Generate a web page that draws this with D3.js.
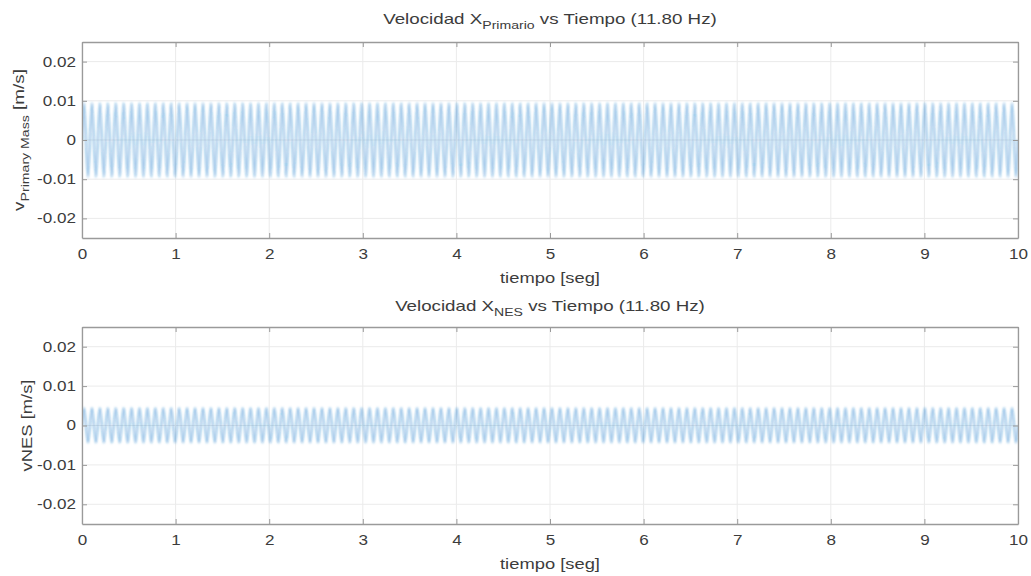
<!DOCTYPE html>
<html>
<head>
<meta charset="utf-8">
<script src="https://cdn.jsdelivr.net/npm/d3@7"></script>
<style>
  html, body { margin: 0; padding: 0; background: #fff; }
  svg { display: block; font-family: "Liberation Sans", Arial, Helvetica, sans-serif; }
</style>
</head>
<body>
<svg id="fig" width="1031" height="576"></svg>
<script>
// Excitation frequency (Hz) and time span of the simulation
const frecuenciaHz = 11.8;
const tiempoFinal = 10;

// Tick labels
const xTicks = [0, 1, 2, 3, 4, 5, 6, 7, 8, 9, 10];
const yTicks = [-0.02, -0.01, 0, 0.01, 0.02];

// Per-cycle velocity extrema (m/s), primary mass: steady oscillation
const maxPrimario = [
  0.0095,0.0095,0.0095,0.0095,0.0095,0.0095,0.0095,0.0095,0.0095,0.0095,
  0.0095,0.0095,0.0095,0.0095,0.0095,0.0095,0.0095,0.0095,0.0095,0.0095,
  0.0095,0.0095,0.0095,0.0095,0.0095,0.0095,0.0095,0.0095,0.0095,0.0095,
  0.0095,0.0095,0.0095,0.0095,0.0095,0.0095,0.0095,0.0095,0.0095,0.0095,
  0.0095,0.0095,0.0095,0.0095,0.0095,0.0095,0.0095,0.0095,0.0095,0.0095,
  0.0095,0.0095,0.0095,0.0095,0.0095,0.0095,0.0095,0.0095,0.0095,0.0095,
  0.0095,0.0095,0.0095,0.0095,0.0095,0.0095,0.0095,0.0095,0.0095,0.0095,
  0.0095,0.0095,0.0095,0.0095,0.0095,0.0095,0.0095,0.0095,0.0095,0.0095,
  0.0095,0.0095,0.0095,0.0095,0.0095,0.0095,0.0095,0.0095,0.0095,0.0095,
  0.0095,0.0095,0.0095,0.0095,0.0095,0.0095,0.0095,0.0095,0.0095,0.0095,
  0.0095,0.0095,0.0095,0.0095,0.0095,0.0095,0.0095,0.0095,0.0095,0.0095,
  0.0095,0.0095,0.0095,0.0095,0.0095,0.0095,0.0095,0.0095
];
const minPrimario = [
  -0.0095,-0.0095,-0.0095,-0.0095,-0.0095,-0.0095,-0.0095,-0.0095,-0.0095,-0.0095,
  -0.0095,-0.0095,-0.0095,-0.0095,-0.0095,-0.0095,-0.0095,-0.0095,-0.0095,-0.0095,
  -0.0095,-0.0095,-0.0095,-0.0095,-0.0095,-0.0095,-0.0095,-0.0095,-0.0095,-0.0095,
  -0.0095,-0.0095,-0.0095,-0.0095,-0.0095,-0.0095,-0.0095,-0.0095,-0.0095,-0.0095,
  -0.0095,-0.0095,-0.0095,-0.0095,-0.0095,-0.0095,-0.0095,-0.0095,-0.0095,-0.0095,
  -0.0095,-0.0095,-0.0095,-0.0095,-0.0095,-0.0095,-0.0095,-0.0095,-0.0095,-0.0095,
  -0.0095,-0.0095,-0.0095,-0.0095,-0.0095,-0.0095,-0.0095,-0.0095,-0.0095,-0.0095,
  -0.0095,-0.0095,-0.0095,-0.0095,-0.0095,-0.0095,-0.0095,-0.0095,-0.0095,-0.0095,
  -0.0095,-0.0095,-0.0095,-0.0095,-0.0095,-0.0095,-0.0095,-0.0095,-0.0095,-0.0095,
  -0.0095,-0.0095,-0.0095,-0.0095,-0.0095,-0.0095,-0.0095,-0.0095,-0.0095,-0.0095,
  -0.0095,-0.0095,-0.0095,-0.0095,-0.0095,-0.0095,-0.0095,-0.0095,-0.0095,-0.0095,
  -0.0095,-0.0095,-0.0095,-0.0095,-0.0095,-0.0095,-0.0095,-0.0095
];

// Per-cycle velocity extrema (m/s), NES mass
const maxNES = [
  0.0045,0.0045,0.0045,0.0045,0.0045,0.0045,0.0045,0.0045,0.0045,0.0045,
  0.0045,0.0045,0.0045,0.0045,0.0045,0.0045,0.0045,0.0045,0.0045,0.0045,
  0.0045,0.0045,0.0045,0.0045,0.0045,0.0045,0.0045,0.0045,0.0045,0.0045,
  0.0045,0.0045,0.0045,0.0045,0.0045,0.0045,0.0045,0.0045,0.0045,0.0045,
  0.0045,0.0045,0.0045,0.0045,0.0045,0.0045,0.0045,0.0045,0.0045,0.0045,
  0.0045,0.0045,0.0045,0.0045,0.0045,0.0045,0.0045,0.0045,0.0045,0.0045,
  0.0045,0.0045,0.0045,0.0045,0.0045,0.0045,0.0045,0.0045,0.0045,0.0045,
  0.0045,0.0045,0.0045,0.0045,0.0045,0.0045,0.0045,0.0045,0.0045,0.0045,
  0.0045,0.0045,0.0045,0.0045,0.0045,0.0045,0.0045,0.0045,0.0045,0.0045,
  0.0045,0.0045,0.0045,0.0045,0.0045,0.0045,0.0045,0.0045,0.0045,0.0045,
  0.0045,0.0045,0.0045,0.0045,0.0045,0.0045,0.0045,0.0045,0.0045,0.0045,
  0.0045,0.0045,0.0045,0.0045,0.0045,0.0045,0.0045,0.0045
];
const minNES = [
  -0.0044,-0.0044,-0.0044,-0.0044,-0.0044,-0.0044,-0.0044,-0.0044,-0.0044,-0.0044,
  -0.0044,-0.0044,-0.0044,-0.0044,-0.0044,-0.0044,-0.0044,-0.0044,-0.0044,-0.0044,
  -0.0044,-0.0044,-0.0044,-0.0044,-0.0044,-0.0044,-0.0044,-0.0044,-0.0044,-0.0044,
  -0.0044,-0.0044,-0.0044,-0.0044,-0.0044,-0.0044,-0.0044,-0.0044,-0.0044,-0.0044,
  -0.0044,-0.0044,-0.0044,-0.0044,-0.0044,-0.0044,-0.0044,-0.0044,-0.0044,-0.0044,
  -0.0044,-0.0044,-0.0044,-0.0044,-0.0044,-0.0044,-0.0044,-0.0044,-0.0044,-0.0044,
  -0.0044,-0.0044,-0.0044,-0.0044,-0.0044,-0.0044,-0.0044,-0.0044,-0.0044,-0.0044,
  -0.0044,-0.0044,-0.0044,-0.0044,-0.0044,-0.0044,-0.0044,-0.0044,-0.0044,-0.0044,
  -0.0044,-0.0044,-0.0044,-0.0044,-0.0044,-0.0044,-0.0044,-0.0044,-0.0044,-0.0044,
  -0.0044,-0.0044,-0.0044,-0.0044,-0.0044,-0.0044,-0.0044,-0.0044,-0.0044,-0.0044,
  -0.0044,-0.0044,-0.0044,-0.0044,-0.0044,-0.0044,-0.0044,-0.0044,-0.0044,-0.0044,
  -0.0044,-0.0044,-0.0044,-0.0044,-0.0044,-0.0044,-0.0044,-0.0044
];

// Build [t, v] vertices: start at rest, max at 1/4 period, min at 3/4 period
function serie(maxs, mins) {
  const T = 1 / frecuenciaHz;
  const pts = [[0, 0]];
  maxs.forEach((m, k) => {
    pts.push([(k + 0.25) * T, m]);
    pts.push([(k + 0.75) * T, mins[k]]);
  });
  pts.push([tiempoFinal, 0]);
  return pts;
}

const svg = d3.select("#fig");
const textColor = "#3c3c3c";
const fmtY = d => d === 0 ? "0" : (d < 0 ? "-" : "") + Math.abs(d).toFixed(2);

// soft rendering of the thin trace
svg.append("defs").append("filter").attr("id", "soft")
  .attr("filterUnits", "userSpaceOnUse")
  .attr("x", 0).attr("y", 0).attr("width", 1031).attr("height", 576)
  .append("feGaussianBlur").attr("stdDeviation", 1);

// widen a text element horizontally about its anchor point
function widen(node, sx, ax, ay) {
  const prev = node.getAttribute("transform") || "";
  if (prev) node.setAttribute("transform", `${prev} scale(${sx},1)`);
  else node.setAttribute("transform",
    `translate(${ax},${ay}) scale(${sx},1) translate(${-ax},${-ay})`);
}
function fitWidth(node, target, ax, ay) {
  const w = node.getBBox().width;
  widen(node, target / w, ax, ay);
}

function panel(cfg) {
  const x = d3.scaleLinear().domain([0, tiempoFinal]).range([cfg.left, cfg.right]);
  const y = d3.scaleLinear().domain([-0.025, 0.025]).range([cfg.bottom, cfg.top]);
  const g = svg.append("g");

  // grid
  g.append("g").selectAll("line").data(xTicks).join("line")
    .attr("x1", d => x(d)).attr("x2", d => x(d))
    .attr("y1", cfg.top).attr("y2", cfg.bottom)
    .attr("stroke", "#ebebeb").attr("stroke-width", 1);
  g.append("g").selectAll("line").data(yTicks).join("line")
    .attr("x1", cfg.left).attr("x2", cfg.right)
    .attr("y1", d => y(d)).attr("y2", d => y(d))
    .attr("stroke", "#ebebeb").attr("stroke-width", 1);

  // signal
  const clipId = "clip" + cfg.id;
  svg.append("clipPath").attr("id", clipId).append("rect")
    .attr("x", cfg.left).attr("y", cfg.top)
    .attr("width", cfg.right - cfg.left).attr("height", cfg.bottom - cfg.top);
  g.append("g").attr("clip-path", `url(#${clipId})`)
    .append("g").attr("filter", "url(#soft)")
    .append("path")
    .attr("d", d3.line().x(d => x(d[0])).y(d => y(d[1])).curve(d3.curveMonotoneX)(cfg.data))
    .attr("fill", "none")
    .attr("stroke", "#1a7acb")
    .attr("stroke-opacity", 0.8)
    .attr("stroke-width", 1.1);

  // axes (box with inward ticks)
  const axCol = "#9a9a9a";
  const tl = 5;
  const axB = g.append("g").attr("transform", `translate(0,${cfg.bottom})`)
    .call(d3.axisBottom(x).tickValues(xTicks).tickSizeInner(-tl).tickSizeOuter(0).tickPadding(11));
  const axT = g.append("g").attr("transform", `translate(0,${cfg.top})`)
    .call(d3.axisTop(x).tickValues(xTicks).tickSizeInner(-tl).tickSizeOuter(0).tickFormat(""));
  const axL = g.append("g").attr("transform", `translate(${cfg.left},0)`)
    .call(d3.axisLeft(y).tickValues(yTicks).tickSizeInner(-tl).tickSizeOuter(0).tickPadding(6).tickFormat(fmtY));
  const axR = g.append("g").attr("transform", `translate(${cfg.right},0)`)
    .call(d3.axisRight(y).tickValues(yTicks).tickSizeInner(-tl).tickSizeOuter(0).tickFormat(""));
  [axB, axT, axL, axR].forEach(a => {
    a.select(".domain").attr("stroke", axCol).attr("stroke-width", 1.3);
    a.selectAll(".tick line").attr("stroke", axCol);
    a.selectAll("text").attr("fill", textColor).style("font-size", "14px")
      .style("font-family", "'Liberation Sans', Arial, sans-serif");
  });
  axB.selectAll(".tick text").each(function () { widen(this, 1.22, 0, 0); });
  axL.selectAll(".tick text").each(function () {
    widen(this, 1.22, +this.getAttribute("x"), 0);
  });

  // titles and labels
  const mid = (cfg.left + cfg.right) / 2;
  const t = g.append("text").attr("x", mid).attr("y", cfg.titleY)
    .attr("text-anchor", "middle").attr("fill", textColor).style("font-size", "14px");
  t.append("tspan").text("Velocidad X");
  t.append("tspan").attr("dy", 5).style("font-size", "10.5px").text(cfg.sub);
  t.append("tspan").attr("dy", -5).text(" vs Tiempo (11.80 Hz)");
  fitWidth(t.node(), cfg.titleW, mid, cfg.titleY);

  const xl = g.append("text").attr("x", mid).attr("y", cfg.bottom + 45)
    .attr("text-anchor", "middle").attr("fill", textColor).style("font-size", "14px")
    .text("tiempo [seg]");
  fitWidth(xl.node(), 100, mid, cfg.bottom + 45);

  const yl = g.append("text")
    .attr("transform", `translate(${cfg.ylx},${(cfg.top + cfg.bottom) / 2}) rotate(-90)`)
    .attr("text-anchor", "middle").attr("fill", textColor).style("font-size", "14px");
  cfg.ylabel(yl);
  fitWidth(yl.node(), cfg.ylW, 0, 0);
}

panel({
  id: "A", left: 82, right: 1018, top: 42, bottom: 238, ylx: 24,
  titleY: 24, titleW: 334, ylW: 142,
  sub: "Primario",
  data: serie(maxPrimario, minPrimario),
  ylabel: s => {
    s.append("tspan").text("v");
    s.append("tspan").attr("dy", 5).style("font-size", "10.5px").text("Primary Mass");
    s.append("tspan").attr("dy", -5).text(" [m/s]");
  }
});

panel({
  id: "B", left: 82, right: 1018, top: 327, bottom: 524, ylx: 32,
  titleY: 311, titleW: 310, ylW: 92,
  sub: "NES",
  data: serie(maxNES, minNES),
  ylabel: s => s.text("vNES [m/s]")
});
</script>
</body>
</html>
